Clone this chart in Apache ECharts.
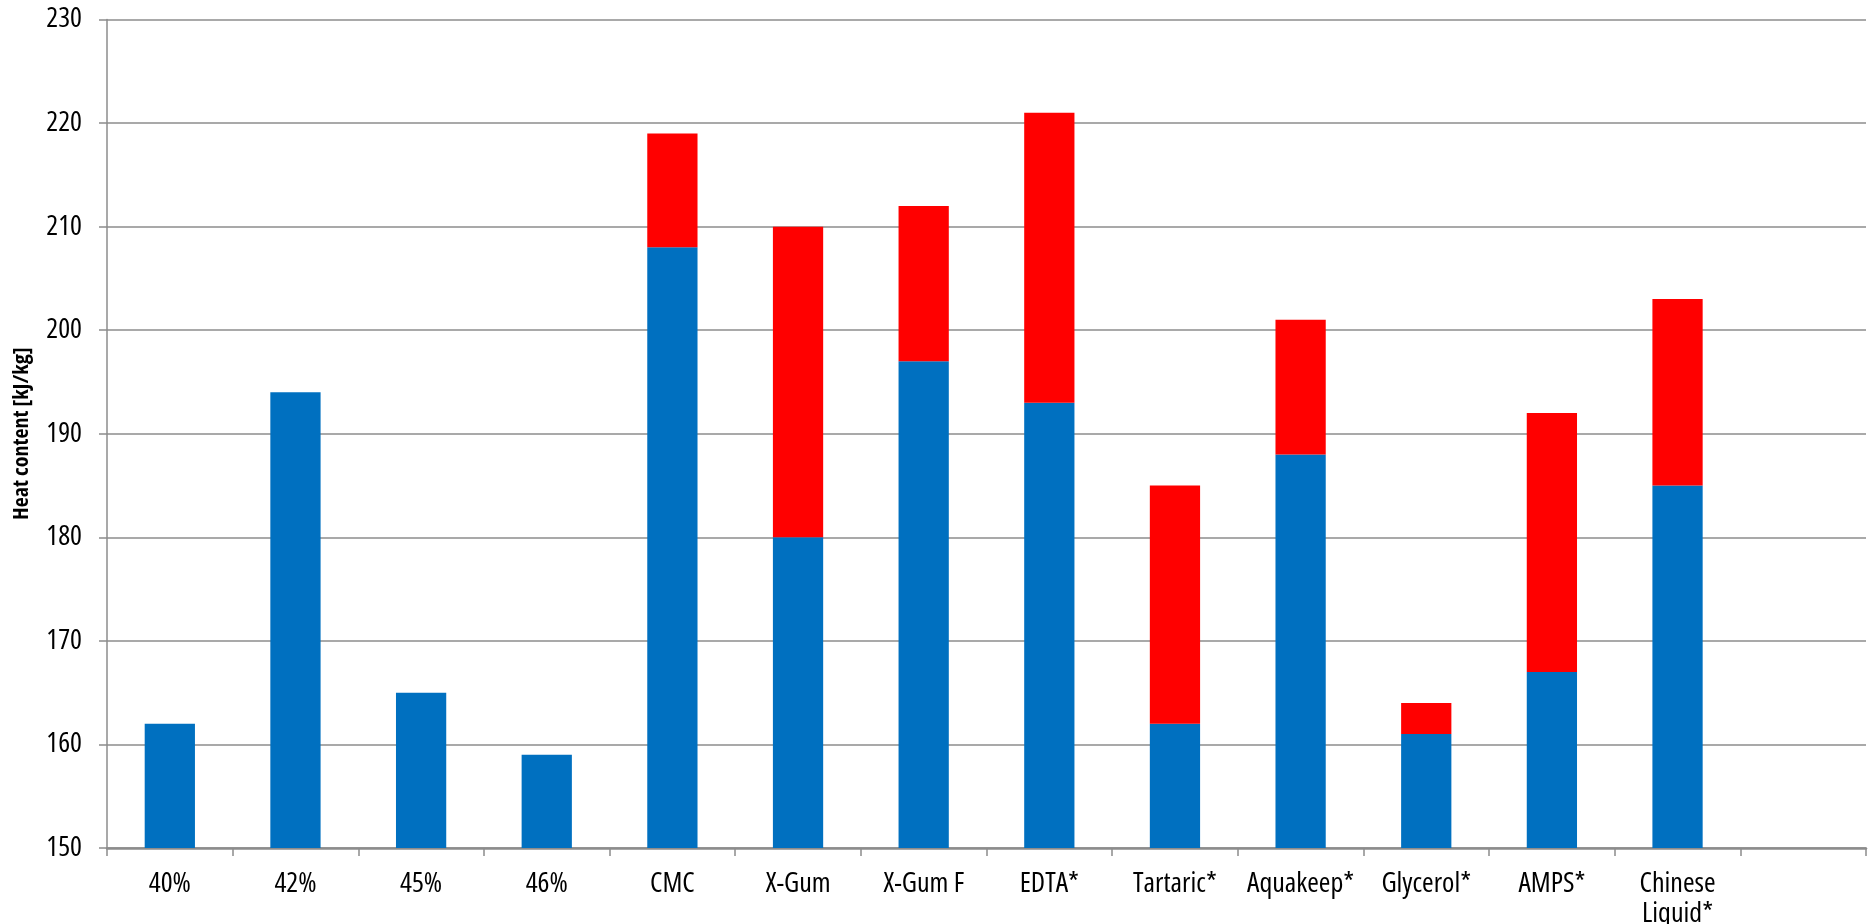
<!DOCTYPE html>
<html>
<head>
<meta charset="utf-8">
<title>Heat content</title>
<script src="https://cdn.jsdelivr.net/npm/echarts@6/dist/echarts.min.js"></script>
<style>
  html, body { margin: 0; padding: 0; background: #ffffff; }
  #chart { width: 1871px; height: 924px; }
</style>
</head>
<body>
<div id="chart"></div>
<script>
// Category labels (last slot is left empty)
const categories = ['40%', '42%', '45%', '46%', 'CMC', 'X-Gum', 'X-Gum F', 'EDTA*',
  'Tartaric*', 'Aquakeep*', 'Glycerol*', 'AMPS*', 'Chinese\nLiquid*', ''];

// Base heat content [kJ/kg]
const baseValues = [162, 194, 165, 159, 208, 180, 197, 193, 162, 188, 161, 167, 185, null];

// Additional heat content stacked on top [kJ/kg]
const extraValues = [null, null, null, null, 11, 30, 15, 28, 23, 13, 3, 25, 18, null];

// Value axis ticks
const yMin = 150;
const yMax = 230;
const yStep = 10;

// Narrow face for all chart text (font-stretch is passed through the weight slot)
const FONT = '"Open Sans", "Liberation Sans", sans-serif';
const GRID_GRAY = '#8c8c8c';

const chart = echarts.init(document.getElementById('chart'), null, { renderer: 'canvas' });

chart.setOption({
  animation: false,
  backgroundColor: '#ffffff',
  grid: {
    left: 107, right: 5, top: 19.5, bottom: 76,
    containLabel: false,
    outerBoundsMode: 'none'
  },
  xAxis: {
    type: 'category',
    data: categories,
    boundaryGap: true,
    axisLine: { show: true, lineStyle: { color: GRID_GRAY, width: 2.5 } },
    axisTick: { show: true, length: 8, lineStyle: { color: GRID_GRAY, width: 1.5 } },
    axisLabel: {
      interval: 0,
      margin: 21,
      color: '#000',
      fontFamily: FONT,
      fontWeight: 'condensed',
      fontSize: 28,
      lineHeight: 30
    },
    splitLine: { show: false }
  },
  yAxis: {
    type: 'value',
    min: yMin,
    max: yMax,
    interval: yStep,
    name: 'Heat content [kJ/kg]',
    nameLocation: 'middle',
    nameGap: 74,
    nameRotate: 90,
    nameTextStyle: {
      color: '#000',
      fontFamily: FONT,
      fontWeight: 'bold condensed',
      fontSize: 22
    },
    axisLine: { show: true, lineStyle: { color: GRID_GRAY, width: 1.5 } },
    axisTick: { show: true, inside: false, length: 8, lineStyle: { color: GRID_GRAY, width: 1.5 } },
    axisLabel: {
      margin: 25,
      color: '#000',
      fontFamily: FONT,
      fontWeight: 'condensed',
      fontSize: 28
    },
    splitLine: { show: true, lineStyle: { color: GRID_GRAY, width: 1.5 } }
  },
  series: [
    {
      name: 'Base',
      type: 'bar',
      stack: 'heat',
      barWidth: '40%',
      data: baseValues,
      itemStyle: { color: '#0070C0' }
    },
    {
      name: 'Extra',
      type: 'bar',
      stack: 'heat',
      barWidth: '40%',
      data: extraValues,
      itemStyle: { color: '#FF0000' }
    }
  ]
});
</script>
</body>
</html>
